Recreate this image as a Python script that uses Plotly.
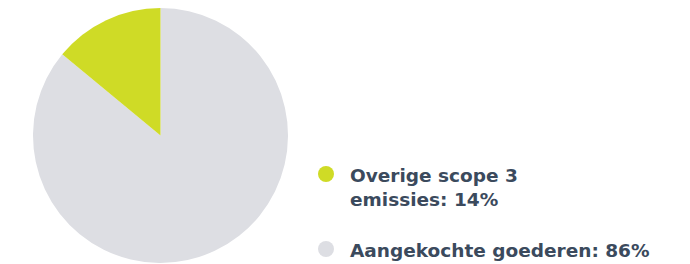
import plotly.graph_objects as go

labels = ["Overige scope 3 emissies", "Aangekochte goederen"]
values = [14, 86]
colors = ["#cfdb26", "#dddee3"]
legend_text = ["Overige scope 3<br>emissies: 14%", "Aangekochte goederen: 86%"]

W, H = 690, 264

fig = go.Figure()
# drawn clockwise from 12 o'clock in reverse order so the green slice sits left of 12 o'clock
fig.add_trace(go.Pie(
    labels=labels[::-1], values=values[::-1], sort=False, direction="clockwise", rotation=0,
    marker=dict(colors=colors[::-1], line=dict(width=0)),
    textinfo="none", hoverinfo="label+percent", showlegend=False,
    domain=dict(x=[33 / W, 288 / W], y=[1 / H, 256 / H]),
))

font = dict(family="DejaVu Sans", size=18.5, color="#3b4a5d")
text_y = [187, 250]
circle_y = [174, 249]
for i, t in enumerate(legend_text):
    fig.add_annotation(x=349 / W, y=1 - text_y[i] / H, xref="paper", yref="paper",
                       text="<b>" + t + "</b>", showarrow=False, xanchor="left", yanchor="middle",
                       align="left", font=font, borderpad=0)
    cy = 1 - circle_y[i] / H
    fig.add_shape(type="circle", xref="paper", yref="paper",
                  x0=318 / W, x1=334 / W, y0=cy - 8 / H, y1=cy + 8 / H,
                  fillcolor=colors[i], line=dict(width=0))

fig.update_layout(width=W, height=H, margin=dict(l=0, r=0, t=0, b=0),
                  paper_bgcolor="white", plot_bgcolor="white")
fig.write_html("out.html", config={"displayModeBar": False})

with open("out.html", encoding="utf-8") as f:
    html = f.read()
html = html.replace("<head>", "<head><style>html,body{margin:0;padding:0;overflow:hidden}</style>", 1)
with open("out.html", "w", encoding="utf-8") as f:
    f.write(html)
